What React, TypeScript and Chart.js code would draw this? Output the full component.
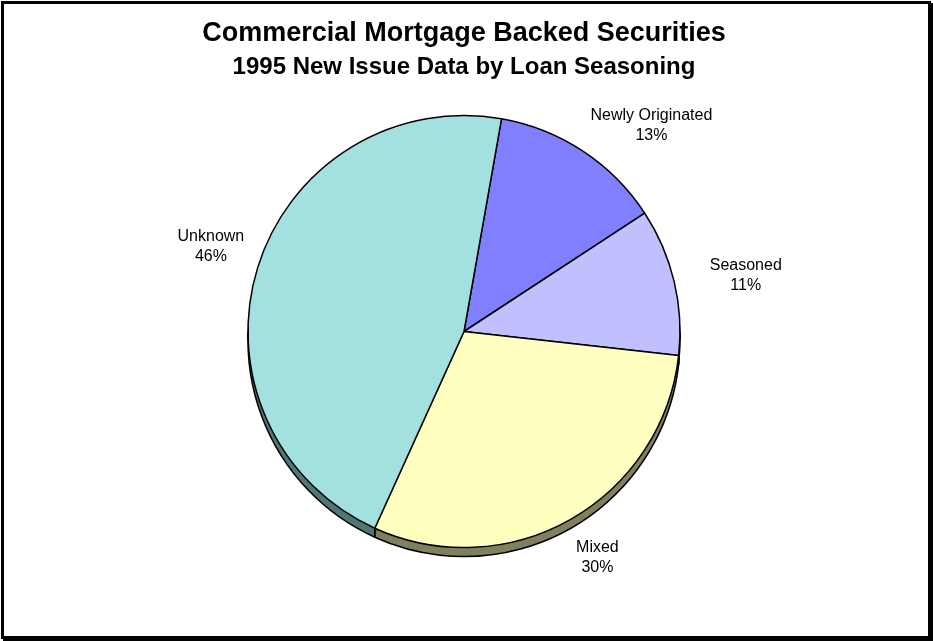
import { useEffect, useRef } from "react";
import { Chart, registerables } from "chart.js";

Chart.register(...registerables);

const TITLE = "Commercial Mortgage Backed Securities";
const SUBTITLE = "1995 New Issue Data by Loan Seasoning";
const categories = ["Newly Originated", "Seasoned", "Mixed", "Unknown"];
const shares = [13, 11, 30, 46];
const sliceColors = ["#8080FF", "#C0C0FF", "#FFFFC0", "#A3E0E0"];
const sideColors = ["#404080", "#606080", "#808060", "#507676"];

const DEPTH = 9;
const LABEL_DIST = 50;
const LABEL_NUDGE = [
  [41, 16],
  [23, 6],
  [2, -5],
  [1, -6],
];
const FONT = '"Liberation Sans", Arial, Helvetica, sans-serif';
const EDGE = 1.5;

const pie3dPlugin = {
  id: "pie3d",
  beforeDatasetsDraw(chart: any) {
    const meta = chart.getDatasetMeta(0);
    const ctx = chart.ctx as CanvasRenderingContext2D;
    ctx.save();
    meta.data.forEach((el: any, i: number) => {
      const { x, y, startAngle, endAngle, outerRadius } = el.getProps(
        ["x", "y", "startAngle", "endAngle", "outerRadius"],
        true
      );
      ctx.fillStyle = sideColors[i];
      for (let t = DEPTH; t >= 1; t--) {
        ctx.beginPath();
        ctx.moveTo(x, y + t);
        ctx.arc(x, y + t, outerRadius, startAngle, endAngle);
        ctx.closePath();
        ctx.fill();
      }
    });
    ctx.strokeStyle = "#000";
    ctx.lineWidth = EDGE;
    meta.data.forEach((el: any) => {
      const { x, y, startAngle, endAngle, outerRadius } = el.getProps(
        ["x", "y", "startAngle", "endAngle", "outerRadius"],
        true
      );
      ctx.beginPath();
      ctx.arc(x, y + DEPTH, outerRadius, startAngle, endAngle);
      ctx.stroke();
      [startAngle, endAngle].forEach((a: number) => {
        if (Math.sin(a) > 0) {
          const px = x + outerRadius * Math.cos(a);
          const py = y + outerRadius * Math.sin(a);
          ctx.beginPath();
          ctx.moveTo(px, py);
          ctx.lineTo(px, py + DEPTH);
          ctx.stroke();
        }
      });
    });
    const first = meta.data[0];
    if (first) {
      const { x, y, outerRadius } = first.getProps(["x", "y", "outerRadius"], true);
      ctx.beginPath();
      ctx.moveTo(x - outerRadius, y);
      ctx.lineTo(x - outerRadius, y + DEPTH);
      ctx.moveTo(x + outerRadius, y);
      ctx.lineTo(x + outerRadius, y + DEPTH);
      ctx.stroke();
    }
    ctx.restore();
  },
  afterDatasetsDraw(chart: any) {
    const meta = chart.getDatasetMeta(0);
    const ctx = chart.ctx as CanvasRenderingContext2D;
    const total = shares.reduce((a, b) => a + b, 0);
    ctx.save();
    ctx.fillStyle = "#000";
    ctx.font = `16px ${FONT}`;
    ctx.textAlign = "center";
    ctx.textBaseline = "middle";
    meta.data.forEach((el: any, i: number) => {
      const { x, y, startAngle, endAngle, outerRadius } = el.getProps(
        ["x", "y", "startAngle", "endAngle", "outerRadius"],
        true
      );
      const mid = (startAngle + endAngle) / 2;
      const d = outerRadius + LABEL_DIST;
      const px = x + d * Math.cos(mid) + LABEL_NUDGE[i][0];
      const py = y + d * Math.sin(mid) + LABEL_NUDGE[i][1];
      ctx.fillText(categories[i], px, py - 10);
      ctx.fillText(`${Math.round((shares[i] / total) * 100)}%`, px, py + 10);
    });
    ctx.restore();
  },
  afterDraw(chart: any) {
    const ctx = chart.ctx as CanvasRenderingContext2D;
    const cx = (chart.chartArea.left + chart.chartArea.right) / 2;
    ctx.save();
    ctx.fillStyle = "#000";
    ctx.textAlign = "center";
    ctx.textBaseline = "alphabetic";
    ctx.font = `bold 27px ${FONT}`;
    ctx.fillText(TITLE, cx, 41);
    ctx.font = `bold 24px ${FONT}`;
    ctx.fillText(SUBTITLE, cx, 74);
    ctx.restore();
  },
};

export default function App() {
  const ref = useRef<HTMLCanvasElement | null>(null);

  useEffect(() => {
    if (!ref.current) return;
    const chart = new Chart(ref.current, {
      type: "pie",
      data: {
        labels: categories,
        datasets: [
          {
            data: shares,
            backgroundColor: sliceColors,
            borderColor: "#000",
            borderWidth: EDGE,
            rotation: 10,
            radius: 216,
            hoverOffset: 0,
          } as any,
        ],
      },
      options: {
        responsive: false,
        animation: false,
        events: [],
        layout: { padding: { left: 0, right: 5, top: 61, bottom: 39 } },
        plugins: {
          legend: { display: false },
          tooltip: { enabled: false },
          title: { display: false },
        },
      },
      plugins: [pie3dPlugin],
    });
    return () => chart.destroy();
  }, []);

  return (
    <div
      style={{
        position: "absolute",
        left: 0,
        top: 0,
        width: 933,
        height: 641,
        background: "#fff",
        overflow: "hidden",
      }}
    >
      <canvas
        ref={ref}
        width={933}
        height={641}
        style={{ position: "absolute", left: 0, top: 0, width: 933, height: 641 }}
      />
      <div
        style={{
          position: "absolute",
          left: 1,
          top: 1,
          width: 930,
          height: 638,
          boxSizing: "border-box",
          border: "3px solid #000",
          boxShadow: "2px 2px 0 #000",
          pointerEvents: "none",
        }}
      />
    </div>
  );
}
